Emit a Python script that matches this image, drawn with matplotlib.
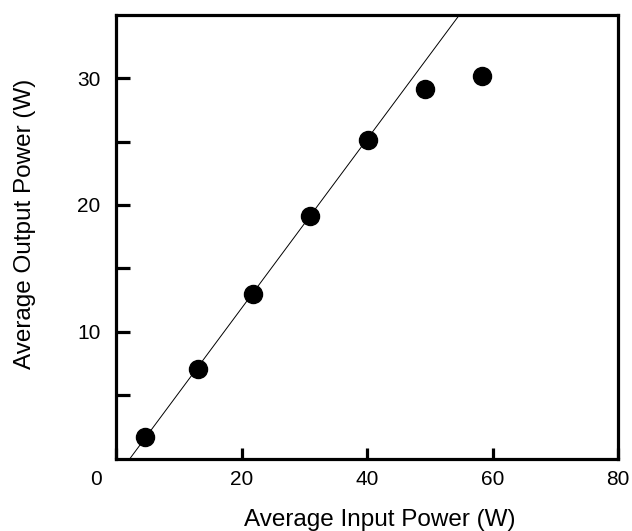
import numpy as np
import matplotlib
matplotlib.use("Agg")
import matplotlib.pyplot as plt
from matplotlib.transforms import ScaledTranslation

# measured points
input_power = [4.6, 13.1, 21.8, 30.9, 40.2, 49.2, 58.3]
output_power = [1.7, 7.1, 13.0, 19.1, 25.1, 29.1, 30.2]

# linear fit line (slope, x-intercept)
fit_slope = 0.666
fit_x0 = 2.2

plt.rcParams['font.family'] = ['Liberation Sans', 'DejaVu Sans']

fig = plt.figure(figsize=(6.32, 5.31), dpi=100)
ax = fig.add_axes([0.1835, 0.136, 0.7945, 0.8365])

xl = np.array([0, 80])
ax.plot(xl, fit_slope * (xl - fit_x0), color='black', lw=0.7)
ax.plot(input_power, output_power, 'o', color='black', ms=13)

ax.set_xlim(0, 80)
ax.set_ylim(0, 35)
ax.set_xticks([0, 20, 40, 60, 80])
ax.set_yticks([5, 10, 15, 20, 25, 30])
ax.set_yticklabels(['', '10', '', '20', '', '30'])

for s in ax.spines.values():
    s.set_linewidth(2.3)
ax.tick_params(axis='both', direction='in', width=2.3, labelsize=15)
ax.tick_params(axis='x', length=8, pad=8)
ax.tick_params(axis='y', length=10, pad=11)

# the "0" sits left of the corner
lab0 = ax.get_xticklabels()[0]
lab0.set_transform(lab0.get_transform() + ScaledTranslation(-0.2, 0, fig.dpi_scale_trans))

ax.set_xlabel('Average Input Power (W)', fontsize=17.5, va='center')
ax.xaxis.set_label_coords(0.526, -0.137)
ax.set_ylabel('Average Output Power (W)', fontsize=17.5, va='center')
ax.yaxis.set_label_coords(-0.181, 0.529)

fig.savefig('out.png', dpi=100)
